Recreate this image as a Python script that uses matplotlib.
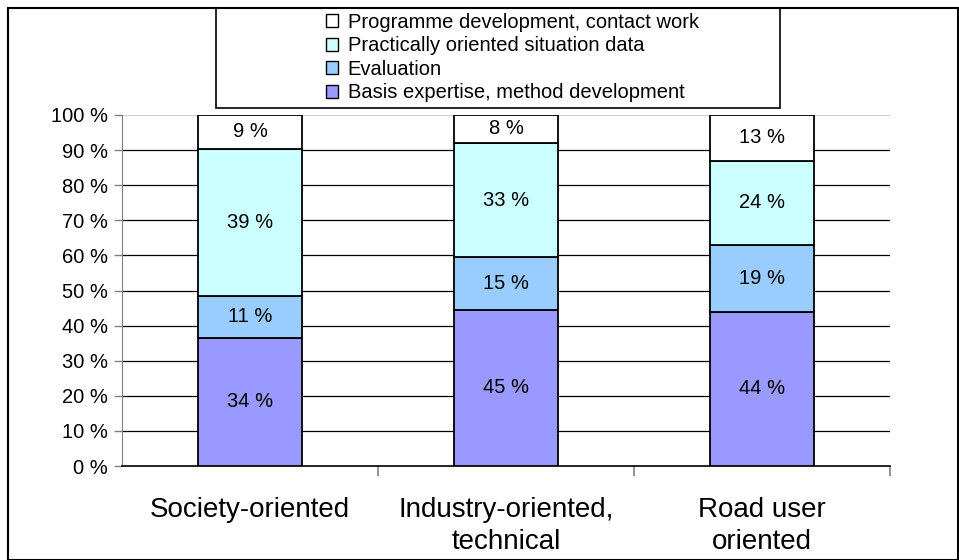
import matplotlib
matplotlib.use("Agg")
import matplotlib.pyplot as plt
from matplotlib.patches import Rectangle, Patch

plt.rcParams['font.family'] = ['Liberation Sans', 'DejaVu Sans']

# categories and the four shares (label values, in %)
categories = ["Society-oriented", "Industry-oriented,\ntechnical", "Road user\noriented"]
series_names = ["Basis expertise, method development", "Evaluation",
                "Practically oriented situation data", "Programme development, contact work"]
basis = [34, 45, 44]
evaluation = [11, 15, 19]
practical = [39, 33, 24]
programme = [9, 8, 13]
colors = ["#9999FF", "#99CCFF", "#CCFFFF", "#FFFFFF"]

W, H = 959, 560
fig = plt.figure(figsize=(W / 100, H / 100), dpi=100)
ax = fig.add_axes([122 / W, 1 - 466 / H, (890 - 122) / W, (466 - 115) / H])

series = [basis, evaluation, practical, programme]
totals = [sum(s[i] for s in series) for i in range(len(categories))]
x = list(range(len(categories)))

# 100 % stacked bars
bottom = [0.0] * len(categories)
for vals, col in zip(series, colors):
    heights = [v / t * 100 for v, t in zip(vals, totals)]
    ax.bar(x, heights, width=0.41, bottom=bottom, color=col,
           edgecolor="black", linewidth=1.3, zorder=3)
    for xi, h, b, v in zip(x, heights, bottom, vals):
        ax.text(xi, b + h / 2, f"{v} %", ha="center", va="center",
                fontsize=14.5, zorder=4)
    bottom = [b + h for b, h in zip(bottom, heights)]

ax.set_xlim(-0.5, 2.5)
ax.set_ylim(0, 100)

# horizontal gridlines
for yv in range(10, 100, 10):
    ax.axhline(yv, color="black", linewidth=0.9, zorder=1)
ax.axhline(100, color="#d0d0d0", linewidth=0.9, zorder=1)

ax.set_yticks(range(0, 101, 10))
ax.set_yticklabels([f"{v} %" for v in range(0, 101, 10)], fontsize=14.5)
ax.tick_params(axis="y", length=6, color="#808080", width=1, pad=4)

ax.set_xticks(x)
ax.set_xticklabels(categories, fontsize=20, linespacing=1.3)
ax.tick_params(axis="x", which="major", length=0, pad=22)
ax.set_xticks([0.5, 1.5, 2.5], minor=True)
ax.tick_params(axis="x", which="minor", length=7, color="#808080", width=1.2,
               direction="out")

for side in ["top", "right"]:
    ax.spines[side].set_visible(False)
ax.spines["left"].set_color("#808080")
ax.spines["bottom"].set_color("black")
ax.spines["bottom"].set_linewidth(1.2)

# legend in its own box
handles = [Patch(facecolor=c, edgecolor="black", linewidth=1) for c in colors][::-1]
fig.legend(handles, series_names[::-1], loc="upper left",
           bbox_to_anchor=(326 / W, 1 - 13 / H), frameon=False, fontsize=14.5,
           handlelength=0.62, handleheight=0.62, handletextpad=0.45,
           labelspacing=0.22, borderpad=0, borderaxespad=0)
fig.patches.append(Rectangle((216 / W, 1 - 108 / H), (780 - 216) / W, 100 / H,
                             transform=fig.transFigure, fill=False,
                             edgecolor="black", linewidth=1.2))

# outer border of the chart
fig.patches.append(Rectangle((8 / W, 0.5 / H), (957.5 - 8) / W, (552 - 0.5) / H,
                             transform=fig.transFigure, fill=False,
                             edgecolor="black", linewidth=1.5))

fig.savefig("out.png", dpi=100)
